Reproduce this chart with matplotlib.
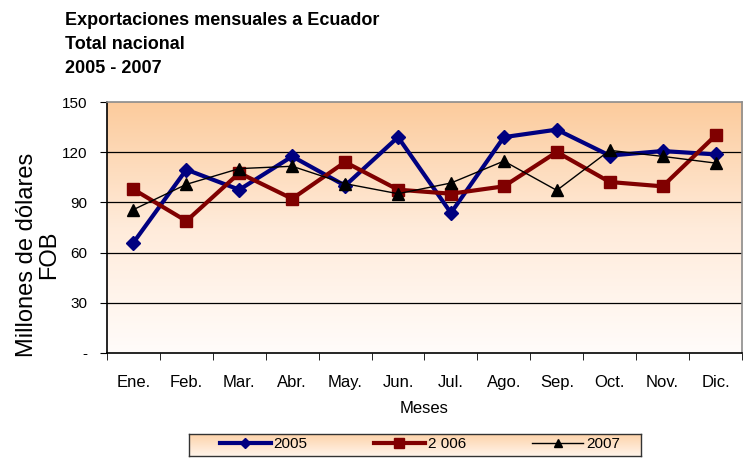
import numpy as np
import matplotlib.pyplot as plt
from matplotlib.colors import LinearSegmentedColormap

plt.rcParams['font.family'] = ['Liberation Sans', 'DejaVu Sans']

meses = ['Ene.', 'Feb.', 'Mar.', 'Abr.', 'May.', 'Jun.', 'Jul.', 'Ago.', 'Sep.', 'Oct.', 'Nov.', 'Dic.']
v2005 = [66, 109.6, 97.6, 117.5, 100, 129, 83.7, 129, 133.5, 118, 120.7, 118.7]
v2006 = [97.8, 78.9, 107.6, 92.2, 114.1, 97.6, 95.2, 99.6, 120.1, 102.2, 99.6, 130]
v2007 = [85.7, 100.8, 110.2, 111.6, 101.2, 95.2, 101.6, 114.7, 97.2, 121.1, 117.5, 113.5]
yticks = [0, 30, 60, 90, 120, 150]
yticklabels = ['-', '30', '60', '90', '120', '150']

fig = plt.figure(figsize=(7.44, 4.62), dpi=100)
ax = fig.add_axes([0.1438, 0.2359, 0.8535, 0.5433])

# degradado naranja -> blanco
cmap = LinearSegmentedColormap.from_list('fondo', ['#FFFCFA', '#FFEBDA', '#FCCB9C'])
grad = np.linspace(0, 1, 256).reshape(-1, 1)
ax.imshow(grad, cmap=cmap, aspect='auto', origin='lower',
          extent=[0, 1, 0, 1], transform=ax.transAxes, zorder=0)

x = np.arange(len(meses))
ax.plot(x, v2005, color='#000080', lw=3, marker='D', ms=7, zorder=3, label='2005')
ax.plot(x, v2006, color='#800000', lw=3, marker='s', ms=9, zorder=3, label='2 006')
ax.plot(x, v2007, color='black', lw=1, marker='^', ms=8, zorder=4, label='2007')

ax.set_xlim(-0.5, len(meses) - 0.5)
ax.set_ylim(0, 150)
ax.set_yticks(yticks)
ax.set_yticklabels(yticklabels, fontsize=11)
for yv in yticks[1:-1]:
    ax.axhline(yv, color='black', lw=0.9, zorder=1)

ax.set_xticks(x)
ax.set_xticklabels(meses, fontsize=12)
ax.set_xticks(np.arange(-0.5, len(meses)), minor=True)
ax.tick_params(axis='x', which='major', length=0, pad=16)
ax.tick_params(axis='x', which='minor', length=5, direction='out')
ax.tick_params(axis='y', length=5, direction='out', pad=9)

ax.spines['left'].set_color('black')
ax.spines['bottom'].set_color('black')
ax.spines['top'].set_color('#8c8c8c')
ax.spines['right'].set_color('#8c8c8c')
for s in ax.spines.values():
    s.set_linewidth(1.2)

ax.set_ylabel('Millones de dólares\nFOB', fontsize=17, linespacing=1.0)
ax.yaxis.set_label_coords(-0.074, 0.39)
ax.set_xlabel('Meses', fontsize=12, labelpad=8)

fig.text(0.0875, 0.975, 'Exportaciones mensuales a Ecuador\nTotal nacional\n2005 - 2007',
         fontsize=13, fontweight='bold', va='top', ha='left', linespacing=1.55)

# caja de la leyenda con degradado
lax = fig.add_axes([189 / 744, (462 - 456) / 462, 452 / 744, 22 / 462])
lcmap = LinearSegmentedColormap.from_list('leyenda', ['#FFF4EA', '#FDD3AA'])
lax.imshow(grad, cmap=lcmap, aspect='auto', origin='lower', extent=[0, 1, 0, 1])
lax.set_xticks([])
lax.set_yticks([])
for s in lax.spines.values():
    s.set_color('#333333')
    s.set_linewidth(1.0)

h, l = ax.get_legend_handles_labels()
leg = fig.legend(h, l, loc='center', bbox_to_anchor=(420 / 744, 1 - 444.5 / 462), ncol=3,
                 frameon=False, fontsize=11, numpoints=1, handlelength=3.3,
                 columnspacing=4.35, handletextpad=0.2, borderpad=0.2)
for hd, ms in zip(leg.legend_handles, [5, 7, 6]):
    hd.set_markersize(ms)

fig.savefig('out.png', dpi=100)
